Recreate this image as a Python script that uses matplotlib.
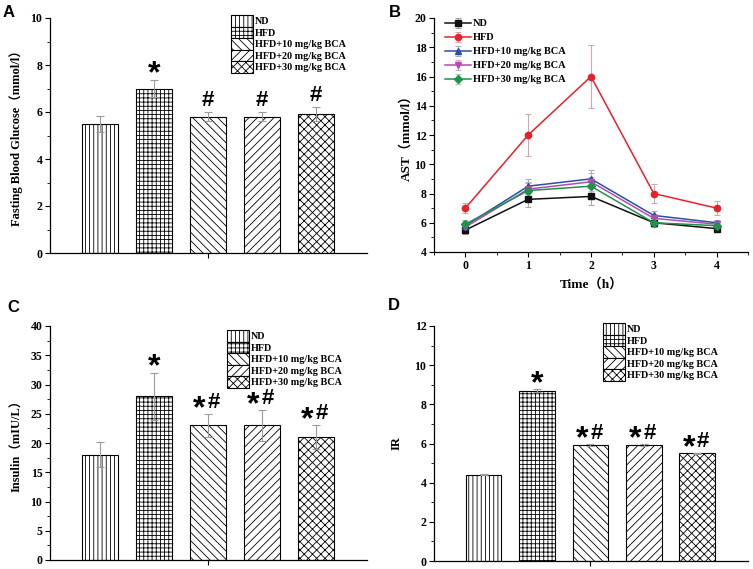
import numpy as np
import matplotlib
matplotlib.use('Agg')
import matplotlib.pyplot as plt
from matplotlib.ticker import MultipleLocator

plt.rcParams['font.family'] = ['Liberation Serif', 'Noto Sans CJK SC']
plt.rcParams['font.weight'] = 'bold'
plt.rcParams['hatch.linewidth'] = 0.6
plt.rcParams['axes.linewidth'] = 0.9

# groups shared by all panels
groups = ['ND', 'HFD', 'HFD+10 mg/kg BCA', 'HFD+20 mg/kg BCA', 'HFD+30 mg/kg BCA']
hatches = ['||||', '++++', '\\\\\\\\', '////', 'xxxx']

# panel A: fasting blood glucose
glucose = [5.5, 7.0, 5.8, 5.8, 5.9]
glucose_err = [0.33, 0.37, 0.2, 0.2, 0.3]
glucose_marks = ['', '*', '#', '#', '#']

# panel B: AST over time
hours = [0, 1, 2, 3, 4]
ast_nd = [5.5, 7.6, 7.8, 6.0, 5.6]
ast_nd_err = [0.3, 0.5, 0.6, 0.2, 0.25]
ast_hfd = [7.0, 12.0, 16.0, 8.0, 7.0]
ast_hfd_err = [0.35, 1.45, 2.15, 0.65, 0.5]
ast_10 = [5.8, 8.5, 9.0, 6.5, 6.0]
ast_10_err = [0.3, 0.5, 0.6, 0.3, 0.2]
ast_20 = [5.7, 8.3, 8.8, 6.3, 5.9]
ast_20_err = [0.3, 0.5, 0.6, 0.3, 0.2]
ast_30 = [5.9, 8.2, 8.5, 6.0, 5.8]
ast_30_err = [0.3, 0.5, 0.6, 0.3, 0.2]

# panel C: insulin
insulin = [18, 28, 23, 23, 21]
insulin_err = [2.1, 4.0, 1.9, 2.6, 2.0]
insulin_marks = ['', '*', '*#', '*#', '*#']

# panel D: IR
ir = [4.4, 8.7, 5.92, 5.92, 5.5]
ir_err = [0.03, 0.06, 0.03, 0.03, 0.02]
ir_marks = ['', '*', '*#', '*#', '*#']

fig = plt.figure(figsize=(7.53, 5.69), dpi=100)
W, H = 753.0, 569.0


def add_ax(x0, x1, ytop, ybot):
    return fig.add_axes([x0 / W, (H - ybot) / H, (x1 - x0) / W, (ybot - ytop) / H])


def style_ax(ax):
    ax.spines['top'].set_visible(False)
    ax.spines['right'].set_visible(False)
    ax.tick_params(which='major', direction='out', length=3.5, width=0.8, labelsize=8.5, pad=2)
    ax.tick_params(which='minor', direction='out', length=2, width=0.6)


def put_mark(ax, x, top, mark):
    star_kw = dict(textcoords='offset points', ha='center', va='baseline',
                   fontsize=23, family='Liberation Sans', fontweight='bold')
    hash_kw = dict(textcoords='offset points', ha='center', va='baseline',
                   fontsize=16, family='Liberation Sans', fontweight='bold')
    if mark == '*':
        ax.annotate('*', xy=(x, top), xytext=(0, -2.0), **star_kw)
    elif mark == '#':
        ax.annotate('#', xy=(x, top), xytext=(0, 4.3), **hash_kw)
    elif mark == '*#':
        ax.annotate('*', xy=(x, top), xytext=(-6.0, -2.2), **star_kw)
        ax.annotate('#', xy=(x, top), xytext=(4.3, 4.3), **hash_kw)


def bar_panel(ax, vals, errs, marks, ymax, ystep, ylabel, leg_x, leg_y, ylab_x):
    x = np.arange(len(groups))
    for i in range(len(groups)):
        ax.bar(x[i], vals[i], width=0.667, color='white', edgecolor='black',
               hatch=hatches[i], linewidth=0.8, label=groups[i],
               yerr=errs[i], error_kw=dict(ecolor='#9a9a9a', elinewidth=0.8,
                                           capsize=3, capthick=0.8))
        put_mark(ax, x[i], vals[i] + errs[i], marks[i])
    ax.set_xlim(-0.93, 4.95)
    ax.set_ylim(0, ymax)
    ax.set_xticks([2])
    ax.set_xticklabels([''])
    ax.yaxis.set_major_locator(MultipleLocator(ystep))
    ax.yaxis.set_minor_locator(MultipleLocator(ystep / 2))
    style_ax(ax)
    ax.set_ylabel(ylabel, fontsize=9, fontweight='bold')
    ax.yaxis.set_label_coords(ylab_x, 0.5)
    ax.legend(loc='upper left', bbox_to_anchor=(leg_x, leg_y), frameon=False,
              fontsize=7.3, handlelength=2.2, handleheight=1.38, labelspacing=0,
              handletextpad=0.2, borderpad=0, borderaxespad=0)


axA = add_ax(50, 367, 18, 253)
bar_panel(axA, glucose, glucose_err, glucose_marks, 10, 2,
          'Fasting Blood Glucose（mmol/l）', 0.571, 1.013, -0.085)

axC = add_ax(50, 367, 326, 560)
bar_panel(axC, insulin, insulin_err, insulin_marks, 40, 5,
          'Insulin（mIU/L）', 0.558, 0.983, -0.085)

axD = add_ax(434, 748, 326, 561)
bar_panel(axD, ir, ir_err, ir_marks, 12, 2, 'IR', 0.538, 1.013, -0.1)

# panel B
axB = add_ax(434, 748, 18, 252)
series = [
    (ast_nd, ast_nd_err, 's', '#111111', '#a8a8a8'),
    (ast_hfd, ast_hfd_err, 'o', '#e8212b', '#d8a4a6'),
    (ast_10, ast_10_err, '^', '#2a4fa3', '#a3acc9'),
    (ast_20, ast_20_err, 'v', '#b04db0', '#c8a8c8'),
    (ast_30, ast_30_err, 'D', '#23904c', '#a4c8ae'),
]
for (vals, errs, mk, col, ecol), name in zip(series, groups):
    ms = 4.5 if mk != 'D' else 3.8
    axB.errorbar(hours, vals, yerr=errs, fmt='-' + mk, color=col, ecolor=ecol,
                 markersize=ms, linewidth=1.1, elinewidth=0.8, capsize=2.5,
                 capthick=0.8, label=name)
axB.set_xlim(-0.5, 4.5)
axB.set_ylim(4, 20)
axB.set_xticks(hours)
axB.xaxis.set_minor_locator(MultipleLocator(0.5))
axB.yaxis.set_major_locator(MultipleLocator(2))
axB.yaxis.set_minor_locator(MultipleLocator(1))
style_ax(axB)
axB.set_ylabel('AST（mmol/l）', fontsize=9.5, fontweight='bold')
axB.yaxis.set_label_coords(-0.068, 0.5)
axB.set_xlabel('Time（h）', fontsize=9.5, fontweight='bold')
axB.xaxis.set_label_coords(0.5, -0.11)
axB.legend(loc='upper left', bbox_to_anchor=(0.035, 0.995), frameon=False,
           fontsize=7.5, handlelength=2.5, labelspacing=0.45, handletextpad=0.2,
           borderpad=0, borderaxespad=0, numpoints=1)

# panel letters
for lab, px, py in [('A', 3, 17), ('B', 389, 17), ('C', 7, 312), ('D', 388, 310)]:
    fig.text(px / W, (H - py) / H, lab, fontsize=12, fontweight='bold',
             family='Liberation Sans', va='baseline', ha='left')

fig.savefig('out.png', dpi=100)
